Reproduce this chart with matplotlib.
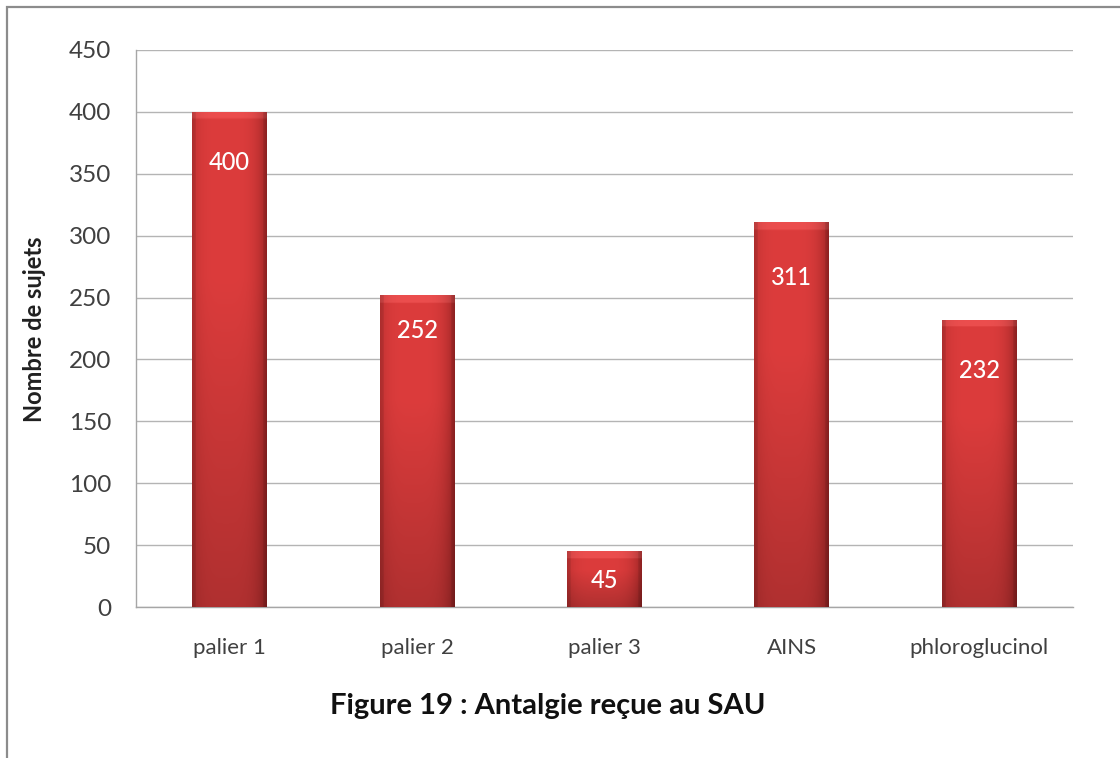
import numpy as np
import matplotlib
matplotlib.use("Agg")
import matplotlib.pyplot as plt
from matplotlib.patches import Rectangle

categories = ["palier 1", "palier 2", "palier 3", "AINS", "phloroglucinol"]
values = [400, 252, 45, 311, 232]
yticks = [0, 50, 100, 150, 200, 250, 300, 350, 400, 450]
ylabel = "Nombre de sujets"
title = "Figure 19 : Antalgie reçue au SAU"

label_offsets_px = [-51, -35, -29, -55, -51]

plt.rcParams['font.family'] = ['Lato', 'DejaVu Sans']

W, H = 1120, 758
fig = plt.figure(figsize=(W / 100, H / 100), dpi=100)
ax = fig.add_axes([136 / W, 1 - 607 / H, (1073 - 136) / W, (607 - 50) / H])

x = np.arange(len(categories))
bars = ax.bar(x, values, width=0.4, color="#d23c3c", edgecolor="none", zorder=2)

ymax = 450
ax_h_px = 607 - 50
px_to_data = ymax / ax_h_px
for b in bars:
    x0, w, h = b.get_x(), b.get_width(), b.get_height()
    nx, ny = 80, 200
    u = np.linspace(0, 1, nx)
    v = np.linspace(0, 1, ny)[:, None]
    prof = 1 - 0.85 * (np.abs(u - 0.45) * 2) ** 4
    base_dark = np.array([170, 42, 42]) / 255
    base_light = np.array([220, 60, 60]) / 255
    img = base_dark + (base_light - base_dark) * prof[None, :, None]
    vert = 0.80 + 0.20 * np.clip(v * 1.5, 0, 1)
    img = np.clip(img * vert[..., None], 0, 1)
    bevel = 7 * px_to_data
    yy = v[:, 0] * h
    top_mask = yy > h - bevel
    img[top_mask] = np.clip(img[top_mask] + np.array([0.06, 0.07, 0.07]), 0, 1)
    side = 3 / (187.4 * w)
    edge = (u < side) | (u > 1 - side)
    img[:, edge] = img[:, edge] * 0.9
    im = ax.imshow(img, extent=(x0, x0 + w, 0, h), origin="lower",
                   aspect="auto", zorder=3, interpolation="bilinear")
    im.set_clip_path(b)

for i, (b, val) in enumerate(zip(bars, values)):
    ax.annotate(str(val), (b.get_x() + b.get_width() / 2, val),
                xytext=(0, label_offsets_px[i] * 0.72), textcoords="offset points",
                ha="center", va="center", color="white", fontsize=17,
                fontweight="medium", zorder=5)

ax.set_xlim(-0.5, len(categories) - 0.5)
ax.set_ylim(0, ymax)
ax.set_yticks(yticks)
ax.set_xticks(x)
ax.set_xticklabels(categories)
ax.yaxis.grid(True, color="#b4b4b4", linewidth=1.0, zorder=0)
ax.set_axisbelow(True)
for s in ["top", "right"]:
    ax.spines[s].set_visible(False)
for s in ["left", "bottom"]:
    ax.spines[s].set_color("#a6a6a6")
    ax.spines[s].set_linewidth(1.0)
ax.tick_params(axis="y", length=0, pad=18, labelsize=17.5, labelcolor="#404040")
ax.tick_params(axis="x", length=0, pad=22, labelsize=16, labelcolor="#404040")

fig.text(35 / W, 1 - 329 / H, ylabel, rotation=90, ha="center", va="center",
         fontsize=17, fontweight="bold", color="#202020")
fig.text(548 / W, 1 - 706 / H, title, ha="center", va="center",
         fontsize=21, fontweight="bold", color="#101010")

fig.patches.append(Rectangle((7 / W, -0.05), 1.2, 1 - 7 / H + 0.05,
                             transform=fig.transFigure, fill=False,
                             edgecolor="#8c8c8c", linewidth=1.6))

fig.savefig("out.png", dpi=100)
